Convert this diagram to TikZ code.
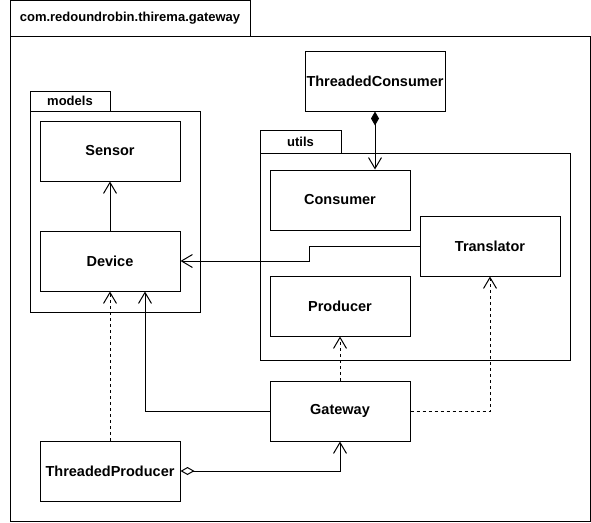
\documentclass[tikz,border=0pt]{standalone}
\usepackage{fontspec}
\setmainfont{Liberation Sans}
\usetikzlibrary{arrows.meta}
\begin{document}
\begin{tikzpicture}[x=1pt,y=1pt,line width=1pt,
  cls/.style={draw,minimum width=140pt,minimum height=60pt,inner sep=0pt,
    font=\fontsize{14.5}{17}\selectfont\bfseries},
  pkg/.style={draw},
  tablabel/.style={font=\fontsize{13}{15}\selectfont\bfseries,inner sep=0pt},
  openarr/.style={-{Straight Barb[length=11pt,width=13pt,line width=1pt]}},
  dep/.style={openarr,dash pattern=on 3pt off 3pt}]
\useasboundingbox (0,0) rectangle (591,-522);
% outer package
\draw[pkg] (10,-0.5) rectangle (250,-36);
\draw[pkg] (10,-36) rectangle (590,-521);
\node[tablabel] (outerlbl) at (130,-18) {com.redoundrobin.thirema.gateway};
% models package
\draw[pkg] (30,-91) rectangle (110,-111);
\draw[pkg] (30,-111) rectangle (200,-312);
\node[tablabel] (modelslbl) at (70,-101) {models};
% utils package
\draw[pkg] (260,-130) rectangle (341,-153);
\draw[pkg] (260,-153) rectangle (570,-360);
\node[tablabel] (utilslbl) at (300.5,-141.5) {utils};
% classes
\node[cls] (sensor) at (110,-151) {Sensor};
\node[cls] (device) at (110,-261) {Device};
\node[cls] (tcons) at (375,-81) {ThreadedConsumer};
\node[cls] (consumer) at (340,-200) {Consumer};
\node[cls] (translator) at (490,-246) {Translator};
\node[cls] (producer) at (340,-306) {Producer};
\node[cls] (gateway) at (340,-411) {Gateway};
\node[cls] (tprod) at (110,-471) {ThreadedProducer};
% connectors
\draw[openarr] (device.north) -- (sensor.south);
\draw[{Diamond[length=14pt,width=8pt]}-{Straight Barb[length=11pt,width=13pt,line width=1pt]}]
  (tcons.south) -- (tcons.south |- consumer.north);
\draw[openarr] (translator.west) -- ++(-110,0) |- (device.east);
\draw[openarr] (gateway.west) -| ([xshift=35pt]device.south);
\draw[dep] (tprod.north) -- (device.south);
\draw[dep] (gateway.north) -- (producer.south);
\draw[dep] (gateway.east) -| (translator.south);
\draw[{Diamond[open,length=14pt,width=8pt]}-{Straight Barb[length=11pt,width=13pt,line width=1pt]}]
  (tprod.east) -| (gateway.south);
\end{tikzpicture}
\end{document}
